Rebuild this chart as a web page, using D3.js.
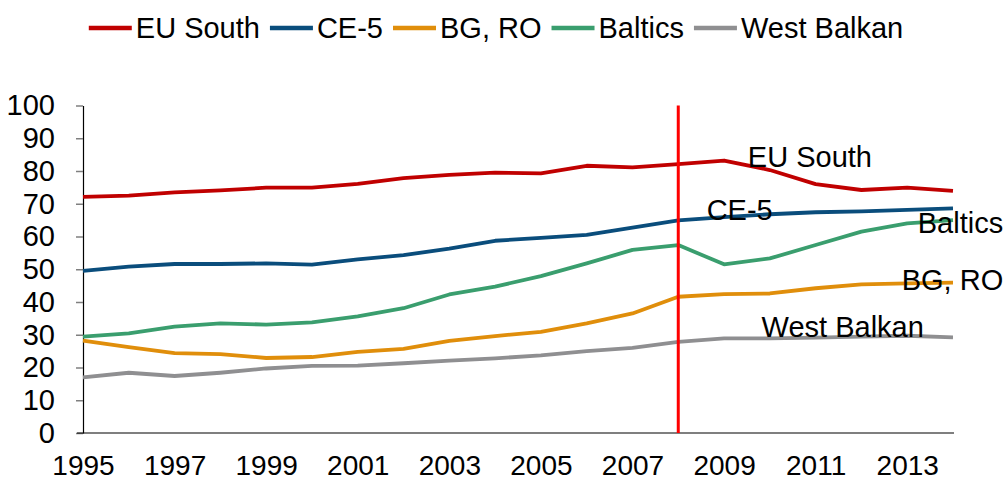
<!DOCTYPE html>
<html>
<head>
<meta charset="utf-8">
<script src="https://cdn.jsdelivr.net/npm/d3@7"></script>
<style>
  body { margin: 0; background: #fff; }
  text { font-family: "Liberation Sans", Arial, sans-serif; fill: #000; }
</style>
</head>
<body>
<svg class="chart"></svg>
<script>
var years = [1995, 1996, 1997, 1998, 1999, 2000, 2001, 2002, 2003, 2004,
             2005, 2006, 2007, 2008, 2009, 2010, 2011, 2012, 2013, 2014];

var euSouth    = [72.1, 72.5, 73.5, 74.1, 74.9, 74.9, 76.1, 77.8, 78.8, 79.5,
                  79.3, 81.6, 81.1, 82.1, 83.2, 80.3, 76.0, 74.2, 74.9, 73.9];
var ce5        = [49.5, 50.8, 51.6, 51.6, 51.8, 51.4, 53.0, 54.3, 56.3, 58.7,
                  59.6, 60.5, 62.7, 64.9, 65.9, 66.8, 67.4, 67.7, 68.1, 68.6];
var bgRo       = [28.2, 26.2, 24.4, 24.1, 22.9, 23.2, 24.8, 25.7, 28.1, 29.6,
                  30.9, 33.5, 36.5, 41.6, 42.4, 42.6, 44.2, 45.4, 45.7, 45.9];
var baltics    = [29.4, 30.4, 32.5, 33.5, 33.1, 33.8, 35.6, 38.1, 42.3, 44.7,
                  47.9, 51.8, 55.9, 57.4, 51.5, 53.3, 57.4, 61.5, 64.0, 65.0];
var westBalkan = [17.0, 18.4, 17.4, 18.4, 19.7, 20.5, 20.6, 21.3, 22.1, 22.8,
                  23.7, 25.0, 26.0, 27.8, 28.9, 28.9, 29.1, 29.4, 29.7, 29.2];

var seriesNames = ["EU South", "CE-5", "BG, RO", "Baltics", "West Balkan"];
var seriesValues = [euSouth, ce5, bgRo, baltics, westBalkan];
var seriesColors = ["#c00000", "#0a4d7c", "#e08e0b", "#3a9e6e", "#8f8f91"];

var xTicks = [1995, 1997, 1999, 2001, 2003, 2005, 2007, 2009, 2011, 2013];
var yTicks = [0, 10, 20, 30, 40, 50, 60, 70, 80, 90, 100];
var markerYear = 2008;

// where the in-chart series labels sit (year, value at baseline)
var labelSpots = [[2009.52, 81.2], [2008.62, 65.0], [2012.88, 43.7], [2013.23, 61.0], [2009.82, 29.2]];

var chartWidth = 1007, chartHeight = 482;
var plotLeft = 83, plotRight = 953, plotTop = 105.5, plotBottom = 433;
var fontSize = 29;

var svg = d3.select(".chart").attr("width", chartWidth).attr("height", chartHeight);

var x = d3.scaleLinear().domain([1995, 2014]).range([plotLeft, plotRight]);
var y = d3.scaleLinear().domain([0, 100]).range([plotBottom, plotTop]);

// y axis
var yAxis = svg.append("g")
    .attr("transform", "translate(" + plotLeft + ",0)")
    .call(d3.axisLeft(y).tickValues(yTicks).tickSize(7).tickPadding(21).tickSizeOuter(0));
yAxis.select(".domain").attr("stroke", "#000").attr("stroke-width", 1.2);
yAxis.selectAll(".tick line").attr("stroke", "#7f7f7f").attr("stroke-width", 1.5);
yAxis.selectAll("text").attr("font-size", fontSize).attr("font-family", "Liberation Sans, Arial").attr("fill", "#000");

// x axis (labels kept just inside the bottom edge)
var xAxis = svg.append("g")
    .attr("transform", "translate(0," + plotBottom + ")")
    .call(d3.axisBottom(x).tickValues(xTicks).tickFormat(d3.format("d")).tickSize(0).tickPadding(22).tickSizeOuter(0));
xAxis.select(".domain").attr("d", "M" + (plotLeft - 6) + ",0H" + (plotRight + 1)).attr("stroke", "#000").attr("stroke-width", 1.2);
xAxis.selectAll("text").attr("font-size", 28).attr("font-family", "Liberation Sans, Arial").attr("fill", "#000");

// series lines
var line = d3.line()
    .x(function(d, i) { return x(years[i]); })
    .y(function(d) { return y(d); });

seriesValues.forEach(function(vals, i) {
  svg.append("path")
     .attr("d", line(vals))
     .attr("fill", "none")
     .attr("stroke", seriesColors[i])
     .attr("stroke-width", 3.8)
     .attr("stroke-linejoin", "round");
});

// 2008 marker
svg.append("line")
   .attr("x1", x(markerYear)).attr("x2", x(markerYear))
   .attr("y1", y(100)).attr("y2", y(0))
   .attr("stroke", "#ff0000")
   .attr("stroke-width", 3);

// in-chart labels
seriesNames.forEach(function(name, i) {
  svg.append("text")
     .attr("x", x(labelSpots[i][0]))
     .attr("y", y(labelSpots[i][1]))
     .attr("font-size", fontSize)
     .text(name);
});

// legend, centred across the top
var legend = svg.append("g");
var cursor = 0;
seriesNames.forEach(function(name, i) {
  var g = legend.append("g").attr("transform", "translate(" + cursor + ",0)");
  g.append("line")
   .attr("x1", 0).attr("x2", 43)
   .attr("y1", 28).attr("y2", 28)
   .attr("stroke", seriesColors[i])
   .attr("stroke-width", 4.5);
  var t = g.append("text")
   .attr("x", 47)
   .attr("y", 37.5)
   .attr("font-size", fontSize)
   .text(name);
  cursor += 47 + t.node().getComputedTextLength() + 10;
});
legend.attr("transform", "translate(" + (496 - (cursor - 10) / 2) + ",0)");
</script>
</body>
</html>
